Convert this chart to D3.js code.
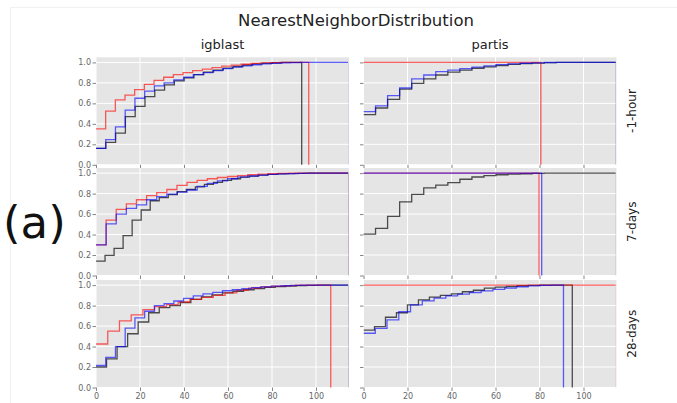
<!DOCTYPE html>
<html>
<head>
<meta charset="utf-8">
<script src="https://cdn.jsdelivr.net/npm/d3@7"></script>
<style>
  html, body { margin: 0; padding: 0; background: #fff; }
  svg { display: block; font-family: "DejaVu Sans", sans-serif; }
</style>
</head>
<body>
<svg id="chart" width="677" height="403"></svg>
<script>
// Facet labels and axis ticks
const columnNames = ["igblast", "partis"];
const rowNames = ["-1-hour", "7-days", "28-days"];
const xTicks = [0, 20, 40, 60, 80, 100];
const yTicks = [0.0, 0.2, 0.4, 0.6, 0.8, 1.0];
const xDomain = [0, 115];
const yDomain = [0, 1.05];

// Cumulative fraction of sequences per histogram bin (bins spread evenly from 0 to the series' last edge)
// igblast, -1-hour
const igblastHourBlack = [0.16, 0.22, 0.31, 0.47, 0.57, 0.665, 0.73, 0.78, 0.82, 0.85, 0.88, 0.905, 0.925, 0.945, 0.96, 0.975, 0.985, 0.992, 0.997, 1.0, 1.0];
const igblastHourRed = [0.35, 0.525, 0.635, 0.68, 0.735, 0.785, 0.825, 0.855, 0.88, 0.90, 0.92, 0.935, 0.95, 0.963, 0.973, 0.982, 0.99, 0.995, 0.998, 1.0, 1.0, 1.0];
const igblastHourBlue = [0.16, 0.245, 0.37, 0.535, 0.65, 0.72, 0.77, 0.80, 0.83, 0.855, 0.88, 0.90, 0.92, 0.94, 0.955, 0.967, 0.977, 0.985, 0.991, 0.995, 0.998, 1.0, 1.0, 1.0, 1.0, 1.0];
// partis, -1-hour
const partisHourBlack = [0.49, 0.555, 0.64, 0.74, 0.795, 0.84, 0.877, 0.905, 0.925, 0.943, 0.957, 0.97, 0.98, 0.988, 0.994, 0.998, 1.0, 1.0, 1.0, 1.0, 1.0];
const partisHourRed = [1.0, 1.0, 1.0, 1.0, 1.0, 1.0, 1.0, 1.0, 1.0, 1.0, 1.0, 1.0, 1.0, 1.0, 1.0];
const partisHourBlue = [0.52, 0.575, 0.675, 0.75, 0.84, 0.877, 0.91, 0.925, 0.94, 0.955, 0.967, 0.978, 0.986, 0.992, 0.996, 0.999, 1.0, 1.0, 1.0, 1.0, 1.0];
// igblast, 7-days
const igblastWeekBlack = [0.14, 0.197, 0.265, 0.39, 0.54, 0.64, 0.73, 0.76, 0.79, 0.82, 0.84, 0.865, 0.89, 0.91, 0.93, 0.945, 0.96, 0.97, 0.98, 0.987, 0.992, 0.996, 0.998, 1.0, 1.0, 1.0, 1.0, 1.0];
const igblastWeekRed = [0.30, 0.54, 0.645, 0.70, 0.74, 0.78, 0.81, 0.84, 0.88, 0.91, 0.93, 0.945, 0.957, 0.967, 0.976, 0.984, 0.99, 0.994, 0.997, 0.999, 1.0, 1.0, 1.0, 1.0, 1.0];
const igblastWeekBlue = [0.30, 0.505, 0.60, 0.655, 0.69, 0.74, 0.77, 0.795, 0.815, 0.835, 0.87, 0.90, 0.925, 0.945, 0.96, 0.972, 0.981, 0.988, 0.993, 0.996, 0.998, 1.0, 1.0, 1.0, 1.0];
// partis, 7-days
const partisWeekBlack = [0.405, 0.46, 0.577, 0.72, 0.793, 0.856, 0.882, 0.908, 0.94, 0.962, 0.975, 0.984, 0.99, 0.994, 0.997, 0.999, 1.0, 1.0, 1.0, 1.0, 1.0];
const partisWeekRed = [1.0, 1.0, 1.0, 1.0, 1.0, 1.0, 1.0, 1.0, 1.0, 1.0, 1.0, 1.0, 1.0, 1.0, 1.0];
const partisWeekBlue = [1.0, 1.0, 1.0, 1.0, 1.0, 1.0, 1.0, 1.0, 1.0, 1.0, 1.0, 1.0, 1.0, 1.0, 1.0];
// igblast, 28-days
const igblastMonthBlack = [0.20, 0.28, 0.40, 0.525, 0.64, 0.73, 0.78, 0.80, 0.83, 0.86, 0.885, 0.905, 0.925, 0.94, 0.955, 0.967, 0.977, 0.985, 0.991, 0.995, 0.998, 1.0, 1.0, 1.0];
const igblastMonthRed = [0.425, 0.55, 0.65, 0.71, 0.76, 0.79, 0.81, 0.835, 0.86, 0.88, 0.90, 0.925, 0.95, 0.97, 0.983, 0.991, 0.996, 0.999, 1.0, 1.0];
const igblastMonthBlue = [0.215, 0.295, 0.40, 0.58, 0.68, 0.745, 0.80, 0.82, 0.845, 0.87, 0.895, 0.915, 0.93, 0.945, 0.955, 0.965, 0.975, 0.983, 0.99, 0.994, 0.997, 0.999, 1.0, 1.0, 1.0, 1.0];
// partis, 28-days
const partisMonthBlack = [0.56, 0.595, 0.686, 0.73, 0.807, 0.856, 0.882, 0.90, 0.915, 0.935, 0.95, 0.97, 0.98, 0.988, 0.994, 0.997, 0.999, 1.0, 1.0];
const partisMonthRed = [1.0, 1.0, 1.0, 1.0, 1.0, 1.0, 1.0, 1.0, 1.0, 1.0, 1.0, 1.0, 1.0, 1.0, 1.0, 1.0, 1.0, 1.0, 1.0, 1.0, 1.0];
const partisMonthBlue = [0.53, 0.578, 0.66, 0.74, 0.807, 0.846, 0.873, 0.895, 0.912, 0.928, 0.943, 0.958, 0.972, 0.984, 0.993, 0.998, 1.0];

// Right edge of each series' last bin, ordered [black, red, blue] per facet
const igblastHourEnds = [93.5, 96.7, 115];
const partisHourEnds = [115, 80.6, 115];
const igblastWeekEnds = [115, 115, 115];
const partisWeekEnds = [115, 79.8, 81.0];
const igblastMonthEnds = [115, 106.7, 115];
const partisMonthEnds = [94.9, 115, 90.9];

const seriesColors = ["rgba(0,0,0,0.68)", "rgba(255,0,0,0.62)", "rgba(0,0,255,0.62)"];

const facets = [
  [[igblastHourBlack, igblastHourRed, igblastHourBlue], igblastHourEnds],
  [[partisHourBlack, partisHourRed, partisHourBlue], partisHourEnds],
  [[igblastWeekBlack, igblastWeekRed, igblastWeekBlue], igblastWeekEnds],
  [[partisWeekBlack, partisWeekRed, partisWeekBlue], partisWeekEnds],
  [[igblastMonthBlack, igblastMonthRed, igblastMonthBlue], igblastMonthEnds],
  [[partisMonthBlack, partisMonthRed, partisMonthBlue], partisMonthEnds]
];

// Layout
const colLeft = [96, 363.5];
const panelW = 253;
const rowTop = [57.3, 168, 280];
const panelH = 107.5;

const svg = d3.select("#chart");

// faint frame around the figure
svg.append("rect")
  .attr("x", 10.5).attr("y", 7.5).attr("width", 670).attr("height", 400)
  .attr("fill", "none").attr("stroke", "#f1f1f1").attr("stroke-width", 1);

svg.append("text")
  .attr("x", 356).attr("y", 26)
  .attr("text-anchor", "middle")
  .attr("font-size", 16.5)
  .attr("fill", "#222")
  .text("NearestNeighborDistribution");

svg.append("text")
  .attr("x", 3).attr("y", 238)
  .attr("font-size", 45)
  .attr("fill", "#111")
  .text("(a)");

const defs = svg.append("defs");

facets.forEach(([seriesList, ends], k) => {
  const r = Math.floor(k / 2), c = k % 2;
  const x0 = colLeft[c], y0 = rowTop[r];
  const x = d3.scaleLinear().domain(xDomain).range([x0, x0 + panelW]);
  const y = d3.scaleLinear().domain(yDomain).range([y0 + panelH, y0]);

  const g = svg.append("g");
  g.append("rect")
    .attr("x", x0).attr("y", y0).attr("width", panelW).attr("height", panelH)
    .attr("fill", "#e5e5e5");

  // grid
  g.append("g").selectAll("line").data(xTicks).join("line")
    .attr("x1", d => x(d)).attr("x2", d => x(d))
    .attr("y1", y0).attr("y2", y0 + panelH)
    .attr("stroke", "#fff").attr("stroke-width", 1);
  g.append("g").selectAll("line").data(yTicks).join("line")
    .attr("x1", x0).attr("x2", x0 + panelW)
    .attr("y1", d => y(d)).attr("y2", d => y(d))
    .attr("stroke", "#fff").attr("stroke-width", 1);

  // axes
  const yAxis = d3.axisLeft(y).tickValues(yTicks).tickSize(3.5).tickPadding(1.5)
    .tickFormat(c === 0 ? d3.format(".1f") : () => "");
  const ya = g.append("g").attr("transform", `translate(${x0},0)`).call(yAxis);
  const xAxis = d3.axisBottom(x).tickValues(xTicks).tickSize(3.5).tickPadding(2)
    .tickFormat(r === 2 ? d3.format("d") : () => "");
  const xa = g.append("g").attr("transform", `translate(0,${y0 + panelH})`).call(xAxis);
  [ya, xa].forEach(a => {
    a.select(".domain").remove();
    a.selectAll(".tick line").attr("stroke", "#666").attr("stroke-width", 0.8);
    a.selectAll(".tick text").attr("fill", "#666").attr("font-size", 8)
      .attr("font-family", "DejaVu Sans, sans-serif");
  });

  // clip region for the step curves; a closing edge at the axis limit stays hidden
  const clipId = "clip" + k;
  defs.append("clipPath").attr("id", clipId)
    .append("rect").attr("x", x0).attr("y", y0 - 2).attr("width", panelW - 0.8).attr("height", panelH + 4);

  const line = d3.line().x(d => x(d[0])).y(d => y(d[1])).curve(d3.curveStepAfter);
  const lines = g.append("g").attr("clip-path", `url(#${clipId})`);
  seriesList.forEach((vals, s) => {
    const end = ends[s];
    const w = end / vals.length;
    const pts = vals.map((v, i) => [i * w, v]);
    pts.push([end, vals[vals.length - 1]]);
    pts.push([end, 0]);
    lines.append("path")
      .attr("d", line(pts))
      .attr("fill", "none")
      .attr("stroke", seriesColors[s])
      .attr("stroke-width", 1.3);
  });

  if (r === 0) {
    svg.append("text")
      .attr("x", x0 + panelW / 2).attr("y", y0 - 8)
      .attr("text-anchor", "middle").attr("font-size", 13).attr("fill", "#222")
      .text(columnNames[c]);
  }
  if (c === 1) {
    const cy = y0 + panelH / 2;
    svg.append("text")
      .attr("transform", `translate(636,${cy}) rotate(-90)`)
      .attr("text-anchor", "middle").attr("font-size", 12).attr("fill", "#222")
      .text(rowNames[r]);
  }
});
</script>
</body>
</html>
